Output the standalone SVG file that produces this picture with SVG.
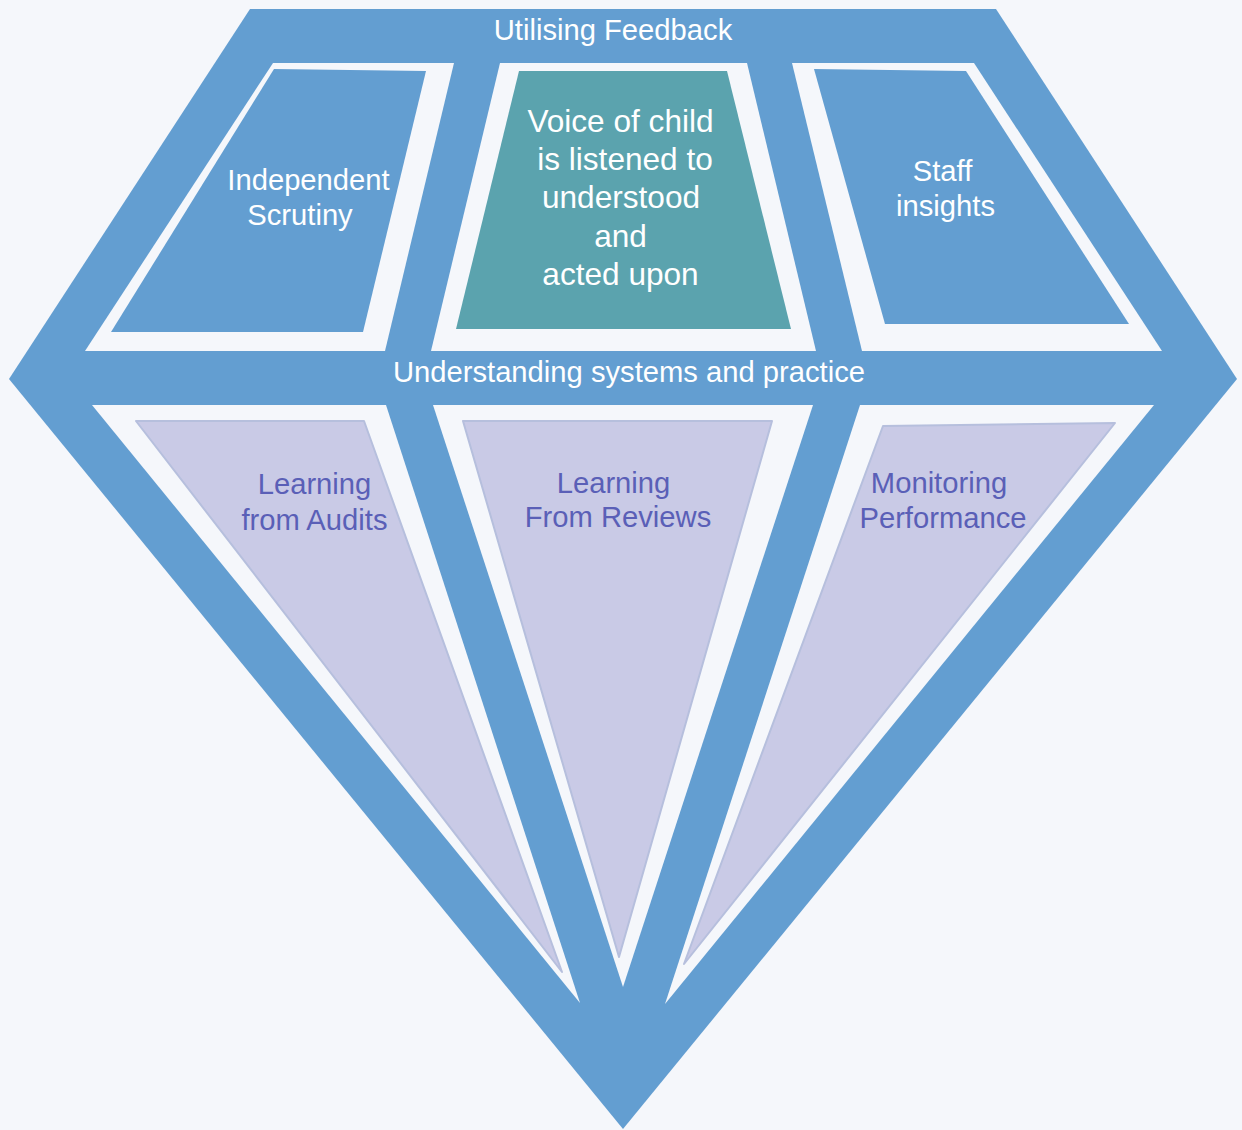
<svg xmlns="http://www.w3.org/2000/svg" width="1242" height="1130" viewBox="0 0 1242 1130">
<style>
.bg{fill:#f5f7fb}
.blue{fill:#639ed1}
.teal{fill:#5ba3ae}
.lav{fill:#c9cae6;stroke:#b6bfdd;stroke-width:2;stroke-linejoin:round}
.cut{fill:#f5f7fb}
text{font-family:"Liberation Sans",Arial,sans-serif;text-anchor:middle}
.w{fill:#ffffff;font-size:29.2px}
.wl{fill:#ffffff;font-size:31.6px}
.p{fill:#5a5fb7;font-size:29.2px}
</style>
<rect class="bg" x="0" y="0" width="1242" height="1130"/>
<g id="frame">
<polygon class="blue" points="250,9 996,9 1237,379 623,1129 9,379"/>
<polygon class="cut" points="273,63 454,63 385,351 85,351"/>
<polygon class="cut" points="500,63 747,63 816,351 431,351"/>
<polygon class="cut" points="792,63 974,63 1162,351 862,351"/>
<polygon class="cut" points="92,405 386,405 580,1003"/>
<polygon class="cut" points="433,405 813,405 623,987"/>
<polygon class="cut" points="860,405 1154,405 665,1004"/>
<text class="w" x="613" y="40">Utilising Feedback</text>
<text class="w" x="629" y="382">Understanding systems and practice</text>
</g>
<g id="independent-scrutiny">
<polygon class="blue" points="274,69 426,71 363,332 111,332"/>
<text class="w" x="308.5" y="190">Independent</text>
<text class="w" x="300" y="225">Scrutiny</text>
</g>
<g id="voice-of-child">
<polygon class="teal" points="519,71 727,71 791,329 456,329"/>
<text class="wl" x="620.5" y="132">Voice of child</text>
<text class="wl" x="625" y="170">is listened to</text>
<text class="wl" x="621" y="208">understood</text>
<text class="wl" x="620.5" y="247">and</text>
<text class="wl" x="620.5" y="285">acted upon</text>
</g>
<g id="staff-insights">
<polygon class="blue" points="814,69 966,71 1129,324 885,324"/>
<text class="w" x="942.5" y="181">Staff</text>
<text class="w" x="945.5" y="216">insights</text>
</g>
<g id="learning-from-audits">
<polygon class="lav" points="136,421 364,421 562,972"/>
<text class="p" x="314.5" y="494">Learning</text>
<text class="p" x="314.5" y="530">from Audits</text>
</g>
<g id="learning-from-reviews">
<polygon class="lav" points="463,421 772,421 619,957"/>
<text class="p" x="613.5" y="493">Learning</text>
<text class="p" x="618" y="527">From Reviews</text>
</g>
<g id="monitoring-performance">
<polygon class="lav" points="883,426 1115,423 684,964"/>
<text class="p" x="939" y="493">Monitoring</text>
<text class="p" x="943" y="528">Performance</text>
</g>
<g id="connectors"/>
</svg>
